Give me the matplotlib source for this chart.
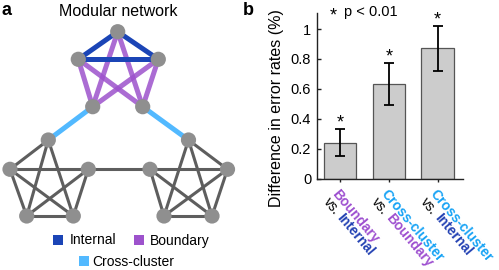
import matplotlib
matplotlib.use('Agg')
import matplotlib.pyplot as plt
from matplotlib.patches import Circle, Rectangle
from matplotlib import transforms
import numpy as np

plt.rcParams['font.family'] = ['Liberation Sans', 'DejaVu Sans']

# ---------------- data: bar chart ----------------
label_top = ['Boundary', 'Cross-cluster', 'Cross-cluster']
label_bottom = ['Internal', 'Boundary', 'Internal']
values = [0.24, 0.63, 0.87]
errors = [0.09, 0.14, 0.15]
significant = [True, True, True]
yticks = [0, 0.2, 0.4, 0.6, 0.8, 1]
ytick_labels = ['0', '0.2', '0.4', '0.6', '0.8', '1']

# ---------------- data: network (pixel layout) ----------------
node_x = [117.7, 78.3, 158.3, 92.7, 142.7,
          48.3, 10.0, 88.3, 26.7, 73.3,
          188.5, 150.0, 227.5, 164.0, 212.0]
node_y = [31.7, 59.3, 59.3, 106.7, 106.7,
          140.0, 169.3, 169.3, 216.0, 216.0,
          140.0, 169.3, 169.3, 216.0, 216.0]
internal_edges = [(0, 1), (0, 2), (1, 2)]
boundary_edges = [(0, 3), (0, 4), (1, 3), (1, 4), (2, 3), (2, 4)]
cross_edges = [(3, 5), (4, 10)]
gray_edges = [(5, 6), (5, 8), (5, 9), (6, 7), (6, 8), (6, 9), (7, 8), (7, 9), (8, 9),
              (10, 12), (10, 13), (10, 14), (11, 12), (11, 13), (11, 14), (12, 13), (12, 14), (13, 14),
              (7, 11)]

C_INTERNAL = '#1b45b6'
C_BOUNDARY = '#9d52cc'
C_CROSS = '#52b9ff'
T_INTERNAL = '#2341b3'
T_BOUNDARY = '#9e50d0'
T_CROSS = '#17a3f5'
word_color = {'Boundary': T_BOUNDARY, 'Internal': T_INTERNAL, 'Cross-cluster': T_CROSS}

W, H = 499, 270
fig = plt.figure(figsize=(W / 100, H / 100), dpi=100)

# ---------------- panel a ----------------
axn = fig.add_axes([0, 0, 250 / W, 1])
axn.set_xlim(0, 250)
axn.set_ylim(270, 0)
axn.axis('off')

def draw_edges(edges, color, lw, alpha=1.0, z=1):
    for i, j in edges:
        axn.plot([node_x[i], node_x[j]], [node_y[i], node_y[j]], color=color,
                 lw=lw, alpha=alpha, solid_capstyle='butt', zorder=z)

draw_edges(gray_edges, '#5e5e5e', 2.2)
draw_edges(cross_edges, C_CROSS, 3.6)
draw_edges(boundary_edges, C_BOUNDARY, 3.6, alpha=0.85, z=2)
draw_edges(internal_edges, C_INTERNAL, 3.6, z=3)
for xn, yn in zip(node_x, node_y):
    axn.add_patch(Circle((xn, yn), 7.6, color='#8f8f8f', zorder=5, lw=0))

fig.text(118.3 / W, 1 - 16.5 / H, 'Modular network', ha='center', va='baseline', fontsize=11.5)
fig.text(2 / W, 1 - 15.5 / H, 'a', ha='left', va='baseline', fontsize=13, fontweight='bold')
fig.text(243 / W, 1 - 15.5 / H, 'b', ha='left', va='baseline', fontsize=13, fontweight='bold')

# legend
legend_items = [('Internal', C_INTERNAL, 52.8, 69.5, 244.5),
                ('Boundary', C_BOUNDARY, 134.0, 149.5, 244.5),
                ('Cross-cluster', C_CROSS, 79.0, 92.0, 265.7)]
for name, col, sx, tx, by in legend_items:
    axn.add_patch(Rectangle((sx, by - 10), 10.5, 10, color=col, lw=0))
    axn.text(tx, by, name, ha='left', va='baseline', fontsize=10)

# ---------------- panel b ----------------
ax = fig.add_axes([316.7 / W, 91.3 / H, 146.3 / W, 165.7 / H])
x = np.arange(1, len(values) + 1)
ax.bar(x, values, width=0.67, color='#cccccc', edgecolor='#555555', linewidth=0.9, zorder=2)
ax.errorbar(x, values, yerr=errors, fmt='none', ecolor='black', elinewidth=1.3,
            capsize=3.8, capthick=1.3, zorder=3)
ax.set_xlim(0.52, 3.52)
ax.set_ylim(0, 1.107)
ax.set_yticks(yticks)
ax.set_yticklabels(ytick_labels)
ax.set_xticks(x)
ax.set_xticklabels([])
for s in ['top', 'right']:
    ax.spines[s].set_visible(False)
for s in ['left', 'bottom']:
    ax.spines[s].set_linewidth(1.0)
    ax.spines[s].set_color('#222222')
ax.tick_params(axis='y', direction='in', length=3, width=1, labelsize=10.5, pad=4, color='#222222')
ax.tick_params(axis='x', direction='inout', length=5, width=1, color='#222222')
ax.set_ylabel('Difference in error rates (%)', fontsize=11.5)
ax.yaxis.set_label_coords(-0.223, 0.427)

for xi, v, e, sig in zip(x, values, errors, significant):
    if sig:
        ax.text(xi, v + e + 0.011, '*', ha='center', va='baseline', fontsize=13, clip_on=False)
ax.text(0.854, 1.058, '*', ha='center', va='baseline', fontsize=13, clip_on=False)
ax.text(1.086, 1.087, 'p < 0.01', ha='left', va='baseline', fontsize=10.5, clip_on=False)

# rotated, multi-coloured x labels
renderer = fig.canvas.get_renderer()
FS = 10.0
ang = 50.0
th = np.deg2rad(ang)
d = np.array([np.cos(th), -np.sin(th)])      # along text (display, y up)
n = np.array([-np.sin(th), -np.cos(th)])     # next line
tmp = fig.text(0, 0, 'vs.', fontsize=FS)
w_vs = tmp.get_window_extent(renderer).width
tmp.remove()
space = 0.278 * FS * 100 / 72

def put(xi, off, s, color, weight):
    tr = transforms.offset_copy(ax.transData, fig=fig, x=off[0], y=off[1], units='dots')
    ax.text(xi, 0, s, transform=tr, rotation=-ang, rotation_mode='anchor',
            ha='left', va='baseline', fontsize=FS, color=color, fontweight=weight, clip_on=False)

for xi, top, bot in zip(x, label_top, label_bottom):
    p1 = np.array([-8.5, -15.5])
    put(xi, p1, top, word_color[top], 'bold')
    p2 = p1 + n * 11.8
    put(xi, p2, 'vs.', 'black', 'normal')
    p3 = p2 + d * (w_vs + space)
    put(xi, p3, bot, word_color[bot], 'bold')

fig.savefig('out.png', dpi=100)
